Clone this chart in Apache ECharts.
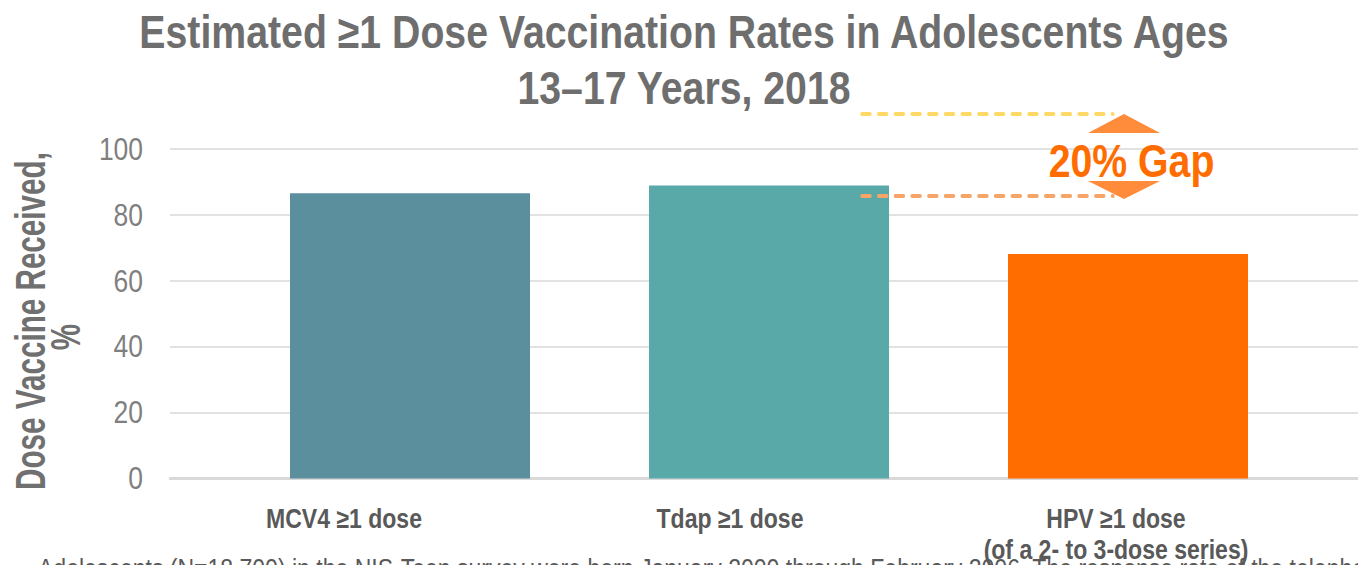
<!DOCTYPE html>
<html><head><meta charset="utf-8">
<script src="https://cdn.jsdelivr.net/npm/echarts@6/dist/echarts.min.js"></script>
<style>
html,body{margin:0;padding:0;background:#fff;overflow:hidden;width:1358px;height:565px}
#c{width:1592px;height:565px;transform:scaleX(0.85302);transform-origin:0 0}
</style>
</head><body><div id="c"></div>
<script>
const titleLines = ['Estimated \u22651 Dose Vaccination Rates in Adolescents Ages', '13\u201317 Years, 2018'];
const categories = ['MCV4 \u22651 dose', 'Tdap \u22651 dose', 'HPV \u22651 dose\n(of a 2- to 3-dose series)'];
const values = [86.6, 88.9, 68.1];
const barColors = ['#5B8F9E', '#59A9A9', '#FF6D00'];
const yMin = 0, yMax = 100, yInterval = 20;
const yAxisTitle = ['Dose Vaccine Received,', '%'];
const gapLabel = '20% Gap';
const footnote = 'Adolescents (N=18,700) in the NIS-Teen survey were born January 2000 through February 2006. The response rate of the telephone survey was reported separately.';

// The page is drawn in a wider space and condensed horizontally (like the narrow type of the original)
const K = 0.85302;
const X = px => px / K;   // screen x -> drawing x
const FONT = "'Liberation Sans', Arial, sans-serif";

const mc = document.createElement('canvas').getContext('2d');
mc.font = "bold 42px 'Liberation Sans', Arial, sans-serif";
const yTitleScaleLen = 338 / mc.measureText(yAxisTitle[0]).width;
const yTitleScaleThick = 1.03 / K;

const chart = echarts.init(document.getElementById('c'), null, {renderer: 'svg', width: 1592, height: 565});
const gridTop = 149, gridBottom = 86.5;
chart.setOption({
  animation: false,
  backgroundColor: '#fff',
  grid: [
    {left: X(170), right: 0, top: gridTop, bottom: gridBottom},
    {left: X(230.5), right: X(50.5), top: gridTop, bottom: gridBottom},
    {left: X(151), right: X(49), top: gridTop, bottom: gridBottom}
  ],
  xAxis: [
    {gridIndex: 0, type: 'category', data: categories, axisTick: {show: false}, axisLabel: {show: false},
     axisLine: {show: true, lineStyle: {color: '#D9D9D9', width: 3}}},
    {gridIndex: 1, type: 'category', data: categories, axisTick: {show: false}, axisLabel: {show: false}, axisLine: {show: false}},
    {gridIndex: 2, type: 'category', data: categories, z: 10, axisTick: {show: false}, axisLine: {show: false},
     axisLabel: {interval: 0, margin: 32, fontFamily: FONT, fontSize: 27, fontWeight: 'bold', color: '#595959', lineHeight: 31}}
  ],
  yAxis: [
    {gridIndex: 0, type: 'value', min: yMin, max: yMax, interval: yInterval,
     axisLine: {show: false}, axisTick: {show: false},
     axisLabel: {margin: X(27), fontFamily: FONT, fontSize: 31, color: '#7F7F7F'},
     splitLine: {lineStyle: {color: '#D9D9D9', width: 1.5}}},
    {gridIndex: 1, type: 'value', min: yMin, max: yMax, interval: yInterval, show: false, splitLine: {show: false}},
    {gridIndex: 2, type: 'value', min: yMin, max: yMax, interval: yInterval, show: false, splitLine: {show: false}}
  ],
  series: [{
    type: 'bar', xAxisIndex: 1, yAxisIndex: 1, barWidth: X(240),
    data: values.map((v, i) => ({value: v, itemStyle: {color: barColors[i]}}))
  }],
  graphic: [
    {type: 'text', x: X(684), y: 4, z: 50,
     style: {text: titleLines.join('\n'), font: "bold 46px " + FONT, fill: '#6E6E6E', align: 'center', verticalAlign: 'top', lineHeight: 56}},
    {type: 'text', x: X(38), y: 568, z: 0, style: {text: footnote, font: "27px " + FONT, fill: '#595959', align: 'left', verticalAlign: 'middle'}},
    {type: 'text', x: X(30), y: 321, rotation: Math.PI / 2, scaleX: yTitleScaleLen, scaleY: yTitleScaleThick, z: 50,
     style: {text: yAxisTitle[0], font: "bold 42px " + FONT, fill: '#707070', align: 'center', verticalAlign: 'middle'}},
    {type: 'text', x: X(65), y: 337, rotation: Math.PI / 2, scaleX: yTitleScaleLen, scaleY: yTitleScaleThick, z: 50,
     style: {text: yAxisTitle[1], font: "bold 42px " + FONT, fill: '#707070', align: 'center', verticalAlign: 'middle'}},
    {type: 'line', z: 100, shape: {x1: X(862), y1: 114, x2: X(1113), y2: 114}, style: {stroke: '#FFD966', lineWidth: 4, lineDash: [X(8), X(8.7)], lineCap: 'round'}},
    {type: 'line', z: 100, shape: {x1: X(862), y1: 196, x2: X(1113), y2: 196}, style: {stroke: '#F7A468', lineWidth: 4, lineDash: [X(8), X(8.7)], lineCap: 'round'}},
    {type: 'polygon', z: 100, shape: {points: [[X(1088), 133], [X(1160), 133], [X(1124), 114]]}, style: {fill: '#FF8C3A'}},
    {type: 'polygon', z: 100, shape: {points: [[X(1088), 181], [X(1160), 181], [X(1124), 199]]}, style: {fill: '#FF8C3A'}},
    {type: 'text', x: X(1131.5), y: 161, z: 110, style: {text: gapLabel, font: "bold 46px " + FONT, fill: '#FF6D00', align: 'center', verticalAlign: 'middle'}}
  ]
});
</script></body></html>
